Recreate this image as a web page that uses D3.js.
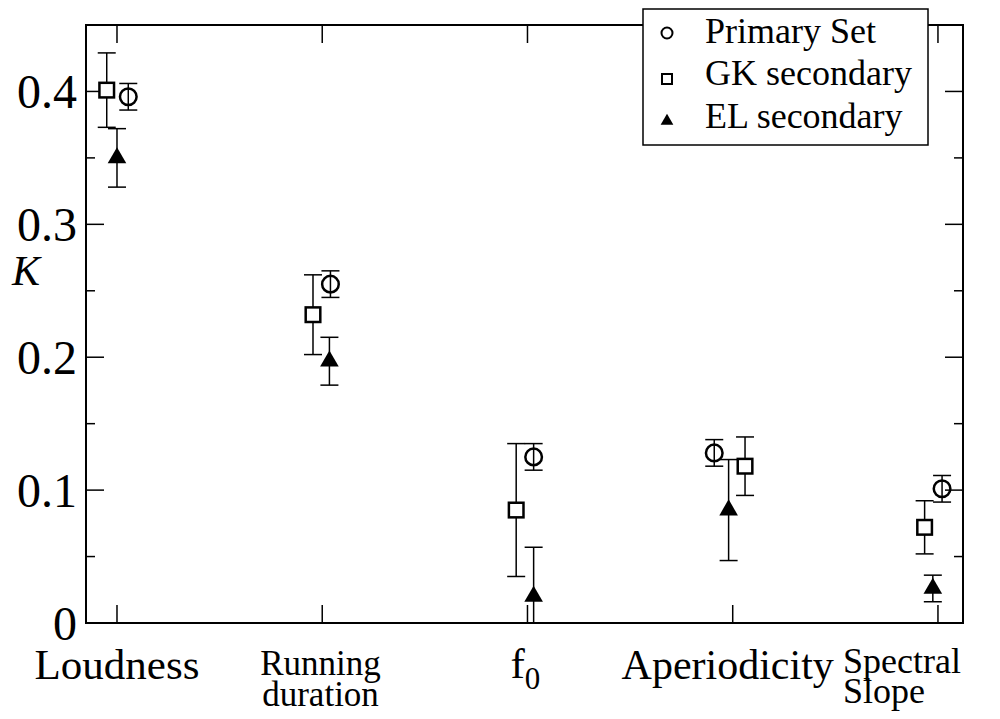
<!DOCTYPE html>
<html>
<head>
<meta charset="utf-8">
<script src="https://cdn.jsdelivr.net/npm/d3@7"></script>
<style>
  html, body { margin: 0; padding: 0; background: #fff; }
  #wrap { position: relative; width: 1000px; height: 719px; }
  #wrap svg { position: absolute; left: 0; top: 0; }
  .lbl { position: absolute; line-height: 0; white-space: nowrap; color: #000;
         font-family: 'Liberation Serif'; }
</style>
</head>
<body>
<div id="wrap"><svg id="chart" width="1000" height="719"></svg></div>
<script>
// Feature categories (x position = 1..5)
const categories = ["Loudness", "Running duration", "f0", "Aperiodicity", "Spectral Slope"];
const categoryPos = [1, 2, 3, 4, 5];

// Primary Set (circles)
const primaryX   = [1.055, 2.04, 3.03, 3.91, 5.02];
const primaryK   = [0.396, 0.255, 0.125, 0.128, 0.101];
const primaryErr = [0.010, 0.010, 0.010, 0.010, 0.010];

// GK secondary (squares)
const gkX   = [0.95, 1.955, 2.945, 4.06, 4.935];
const gkK   = [0.401, 0.232, 0.085, 0.118, 0.072];
const gkErr = [0.028, 0.030, 0.050, 0.022, 0.020];

// EL secondary (filled triangles)
const elX   = [1.0, 2.035, 3.03, 3.98, 4.975];
const elK   = [0.350, 0.197, 0.020, 0.085, 0.026];
const elErr = [0.022, 0.018, 0.037, 0.038, 0.010];

const yMajorTicks = [0, 0.1, 0.2, 0.3, 0.4];
const yTickLabels = ["0", "0.1", "0.2", "0.3", "0.4"];
const yMinorTicks = [0.05, 0.15, 0.25, 0.35, 0.45];

const svg = d3.select("#chart");
const wrap = d3.select("#wrap");
const plotL = 86, plotR = 963, plotT = 25, plotB = 623;

const x = d3.scaleLinear().domain([0.849, 5.122]).range([plotL, plotR]);
const y = d3.scaleLinear().domain([0, 0.45]).range([plotB, plotT]);

const series = [
  { name: "Primary Set",  xs: primaryX, ks: primaryK, errs: primaryErr, shape: "circle" },
  { name: "GK secondary", xs: gkX,      ks: gkK,      errs: gkErr,      shape: "square" },
  { name: "EL secondary", xs: elX,      ks: elK,      errs: elErr,      shape: "triangle" }
];

// Text labels as positioned HTML, placed by baseline.
// With line-height 0 the baseline sits (ascent - descent)/2 below the box top.
const BASE_SHIFT = (0.891 - 0.216) / 2;
const shiftX = { start: "0", middle: "-50%", end: "-100%" };
function label(px, baseline, size, str, anchor = "start") {
  return wrap.append("div").attr("class", "lbl")
    .style("left", px + "px")
    .style("top", (baseline - BASE_SHIFT * size) + "px")
    .style("font-size", size + "px")
    .style("transform", `translateX(${shiftX[anchor]})`)
    .text(str);
}

// ---- axes: ticks pointing inward on all four sides ----
const axisG = svg.append("g");
const tickStyle = sel => sel.attr("stroke", "#000").attr("stroke-width", 1.5);

[[yMajorTicks, 18], [yMinorTicks, 9]].forEach(([ticks, len]) => {
  ticks.forEach(t => {
    axisG.append("line").attr("x1", plotL).attr("x2", plotL + len)
      .attr("y1", y(t)).attr("y2", y(t)).call(tickStyle);
    axisG.append("line").attr("x1", plotR).attr("x2", plotR - len)
      .attr("y1", y(t)).attr("y2", y(t)).call(tickStyle);
  });
});
categoryPos.forEach(c => {
  axisG.append("line").attr("x1", x(c)).attr("x2", x(c))
    .attr("y1", plotB).attr("y2", plotB - 18).call(tickStyle);
  axisG.append("line").attr("x1", x(c)).attr("x2", x(c))
    .attr("y1", plotT).attr("y2", plotT + 18).call(tickStyle);
});

// ---- data marks, clipped to the plot frame ----
svg.append("clipPath").attr("id", "plotClip")
  .append("rect").attr("x", plotL).attr("y", plotT)
  .attr("width", plotR - plotL).attr("height", plotB - plotT);
const plot = svg.append("g").attr("clip-path", "url(#plotClip)");

const cap = 9;
const triSym = d3.symbol().type(d3.symbolTriangle).size(150);

series.forEach(s => {
  const g = plot.append("g");
  s.ks.forEach((k, i) => {
    const cx = x(s.xs[i]);
    const yHi = y(k + s.errs[i]), yLo = y(k - s.errs[i]);
    g.append("line").attr("x1", cx).attr("x2", cx).attr("y1", yHi).attr("y2", yLo)
      .attr("stroke", "#000").attr("stroke-width", 1.5);
    [yHi, yLo].forEach(yy => g.append("line")
      .attr("x1", cx - cap).attr("x2", cx + cap).attr("y1", yy).attr("y2", yy)
      .attr("stroke", "#000").attr("stroke-width", 1.5));
  });
});

series.forEach(s => {
  const g = plot.append("g");
  s.ks.forEach((k, i) => {
    const cx = x(s.xs[i]), cy = y(k);
    if (s.shape === "circle") {
      g.append("circle").attr("cx", cx).attr("cy", cy).attr("r", 8.3)
        .attr("fill", "none").attr("stroke", "#000").attr("stroke-width", 2.5);
    } else if (s.shape === "square") {
      g.append("rect").attr("x", cx - 7.3).attr("y", cy - 7.3)
        .attr("width", 14.6).attr("height", 14.6)
        .attr("fill", "#fff").attr("stroke", "#000").attr("stroke-width", 2.5);
    } else {
      g.append("path").attr("d", triSym).attr("transform", `translate(${cx},${cy})`)
        .attr("fill", "#000");
    }
  });
});

// frame
svg.append("rect").attr("x", plotL).attr("y", plotT)
  .attr("width", plotR - plotL).attr("height", plotB - plotT)
  .attr("fill", "none").attr("stroke", "#000").attr("stroke-width", 2);

// ---- legend box and symbols ----
const lg = svg.append("g");
lg.append("rect").attr("x", 643).attr("y", 9).attr("width", 285).attr("height", 136)
  .attr("fill", "#fff").attr("stroke", "#000").attr("stroke-width", 1.5);
const rows = [33, 79, 121];
const baselines = [43, 85, 128];
series.forEach((s, i) => {
  const cy = rows[i], cx = 667;
  if (s.shape === "circle") {
    lg.append("circle").attr("cx", cx).attr("cy", cy).attr("r", 5.5)
      .attr("fill", "none").attr("stroke", "#000").attr("stroke-width", 2);
  } else if (s.shape === "square") {
    lg.append("rect").attr("x", cx - 5).attr("y", cy - 5).attr("width", 10).attr("height", 10)
      .attr("fill", "#fff").attr("stroke", "#000").attr("stroke-width", 2);
  } else {
    lg.append("path").attr("d", d3.symbol().type(d3.symbolTriangle).size(70))
      .attr("transform", `translate(${cx},${cy})`).attr("fill", "#000");
  }
  label(705, baselines[i], 36, s.name);
});

// ---- text: tick labels, axis title, category names ----
yMajorTicks.forEach((t, i) => label(plotL - 9, y(t) + 17, 48, yTickLabels[i], "end"));

label(12, 285, 42, "K").style("font-style", "italic");

label(x(1), 680, 43, categories[0], "middle");
label(x(2) - 62, 676, 35, "Running");
label(x(2) - 60, 707, 35, "duration");
const f0 = label(x(3) - 17, 679, 43, "f");
f0.append("span").style("font-size", "31px").style("position", "relative")
  .style("top", "11px").text("0");
label(x(4) - 5, 679, 42, categories[3], "middle");
label(x(5) - 95, 673, 36, "Spectral");
label(x(5) - 95, 703, 36, "Slope");
</script>
</body>
</html>
